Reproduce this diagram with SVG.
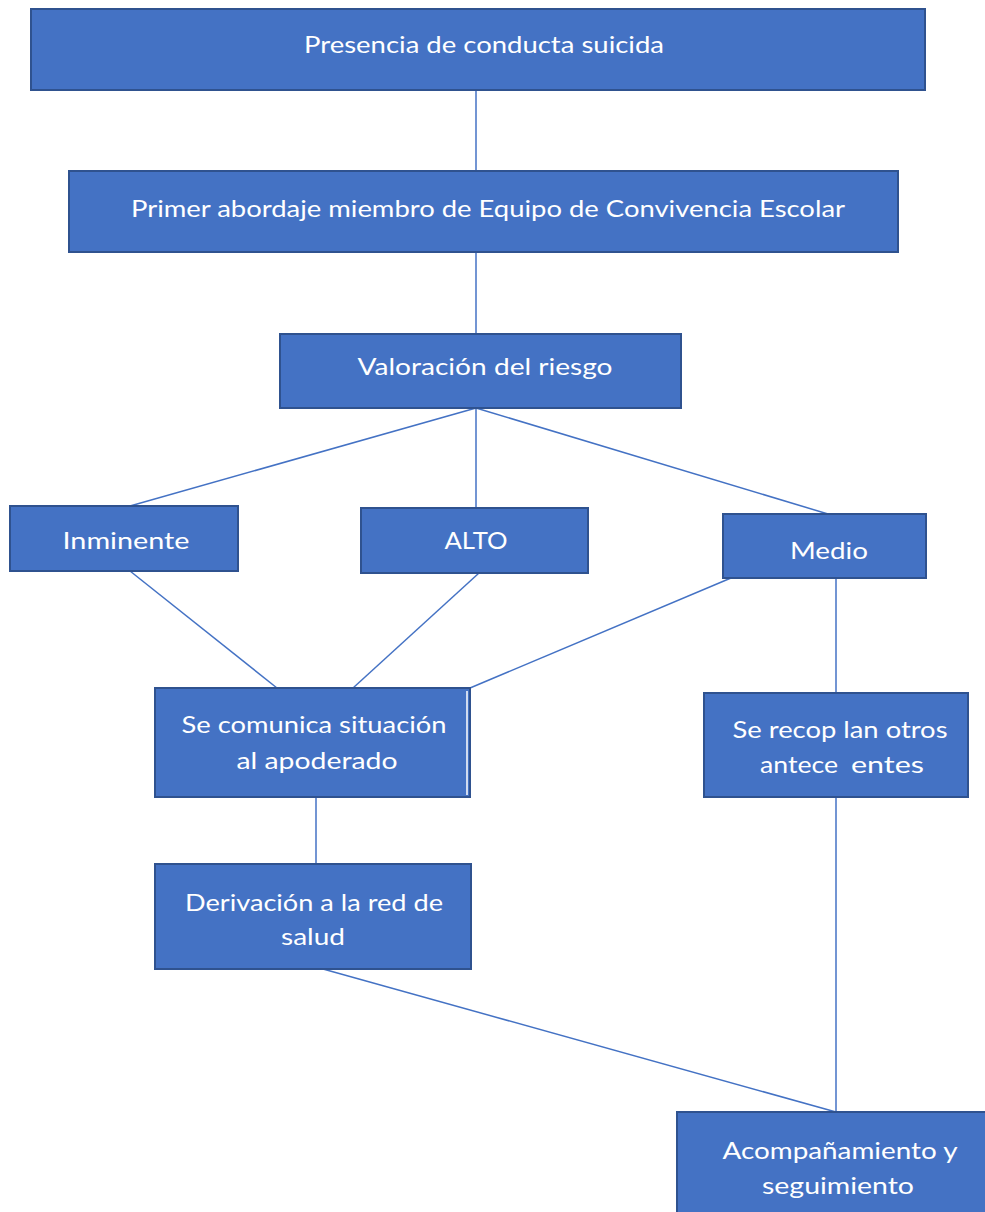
<svg xmlns="http://www.w3.org/2000/svg" width="985" height="1212" viewBox="0 0 985 1212">
<style>
.box{fill:#4472C4;stroke:#2F528F;stroke-width:2}
.t{font-family:Lato,"Open Sans","Liberation Sans",sans-serif;font-size:24px;fill:#FFFFFF}
.c{text-anchor:middle}
.ln{stroke:#4472C4;stroke-width:1.5;fill:none}
</style>
<rect width="985" height="1212" fill="#FFFFFF"/>
<g id="connectors">
<line class="ln" x1="476" y1="90" x2="476" y2="171"/>
<line class="ln" x1="476" y1="252" x2="476" y2="334"/>
<line class="ln" x1="476" y1="408" x2="130" y2="506"/>
<line class="ln" x1="476" y1="408" x2="476" y2="508"/>
<line class="ln" x1="476" y1="408" x2="828" y2="514"/>
<line class="ln" x1="130" y1="571" x2="277" y2="688"/>
<line class="ln" x1="479" y1="573" x2="353" y2="688"/>
<line class="ln" x1="731" y1="578" x2="470" y2="688"/>
<line class="ln" x1="836" y1="578" x2="836" y2="693"/>
<line class="ln" x1="316" y1="797" x2="316" y2="864"/>
<line class="ln" x1="323" y1="969" x2="836" y2="1112"/>
<line class="ln" x1="836" y1="797" x2="836" y2="1112"/>
</g>
<g id="n1"><rect class="box" x="31" y="9" width="894" height="81"/>
<text class="t c" x="484" y="53" textLength="360" lengthAdjust="spacingAndGlyphs">Presencia de conducta suicida</text></g>
<g id="n2"><rect class="box" x="69" y="171" width="829" height="81"/>
<text class="t c" x="488" y="217" textLength="714" lengthAdjust="spacingAndGlyphs">Primer abordaje miembro de Equipo de Convivencia Escolar</text></g>
<g id="n3"><rect class="box" x="280" y="334" width="401" height="74"/>
<text class="t c" x="485" y="375" textLength="255" lengthAdjust="spacingAndGlyphs">Valoración del riesgo</text></g>
<g id="n4"><rect class="box" x="10" y="506" width="228" height="65"/>
<text class="t c" x="126" y="549" textLength="127" lengthAdjust="spacingAndGlyphs">Inminente</text></g>
<g id="n5"><rect class="box" x="361" y="508" width="227" height="65"/>
<text class="t c" x="476" y="549" textLength="63" lengthAdjust="spacingAndGlyphs">ALTO</text></g>
<g id="n6"><rect class="box" x="723" y="514" width="203" height="64"/>
<text class="t c" x="829" y="559" textLength="78" lengthAdjust="spacingAndGlyphs">Medio</text></g>
<g id="n7"><rect class="box" x="155" y="688" width="315" height="109"/>
<line x1="467" y1="691" x2="467" y2="795" stroke="#FFFFFF" stroke-width="1.5"/>
<text class="t c" x="314" y="733" textLength="265" lengthAdjust="spacingAndGlyphs">Se comunica situación</text>
<text class="t c" x="317" y="769" textLength="161" lengthAdjust="spacingAndGlyphs">al apoderado</text></g>
<g id="n8"><rect class="box" x="704" y="693" width="264" height="104"/>
<text class="t c" x="840" y="738" textLength="215" lengthAdjust="spacingAndGlyphs">Se recop lan otros</text>
<text class="t" x="760" y="773" textLength="78" lengthAdjust="spacingAndGlyphs">antece</text>
<text class="t" x="851" y="773" textLength="73" lengthAdjust="spacingAndGlyphs">entes</text></g>
<g id="n9"><rect class="box" x="155" y="864" width="316" height="105"/>
<text class="t c" x="314" y="911" textLength="258" lengthAdjust="spacingAndGlyphs">Derivación a la red de</text>
<text class="t c" x="313" y="945" textLength="64" lengthAdjust="spacingAndGlyphs">salud</text></g>
<g id="n10"><rect class="box" x="677" y="1112" width="320" height="110"/>
<text class="t c" x="840" y="1159" textLength="235" lengthAdjust="spacingAndGlyphs">Acompañamiento y</text>
<text class="t c" x="838" y="1194" textLength="152" lengthAdjust="spacingAndGlyphs">seguimiento</text></g>
</svg>
